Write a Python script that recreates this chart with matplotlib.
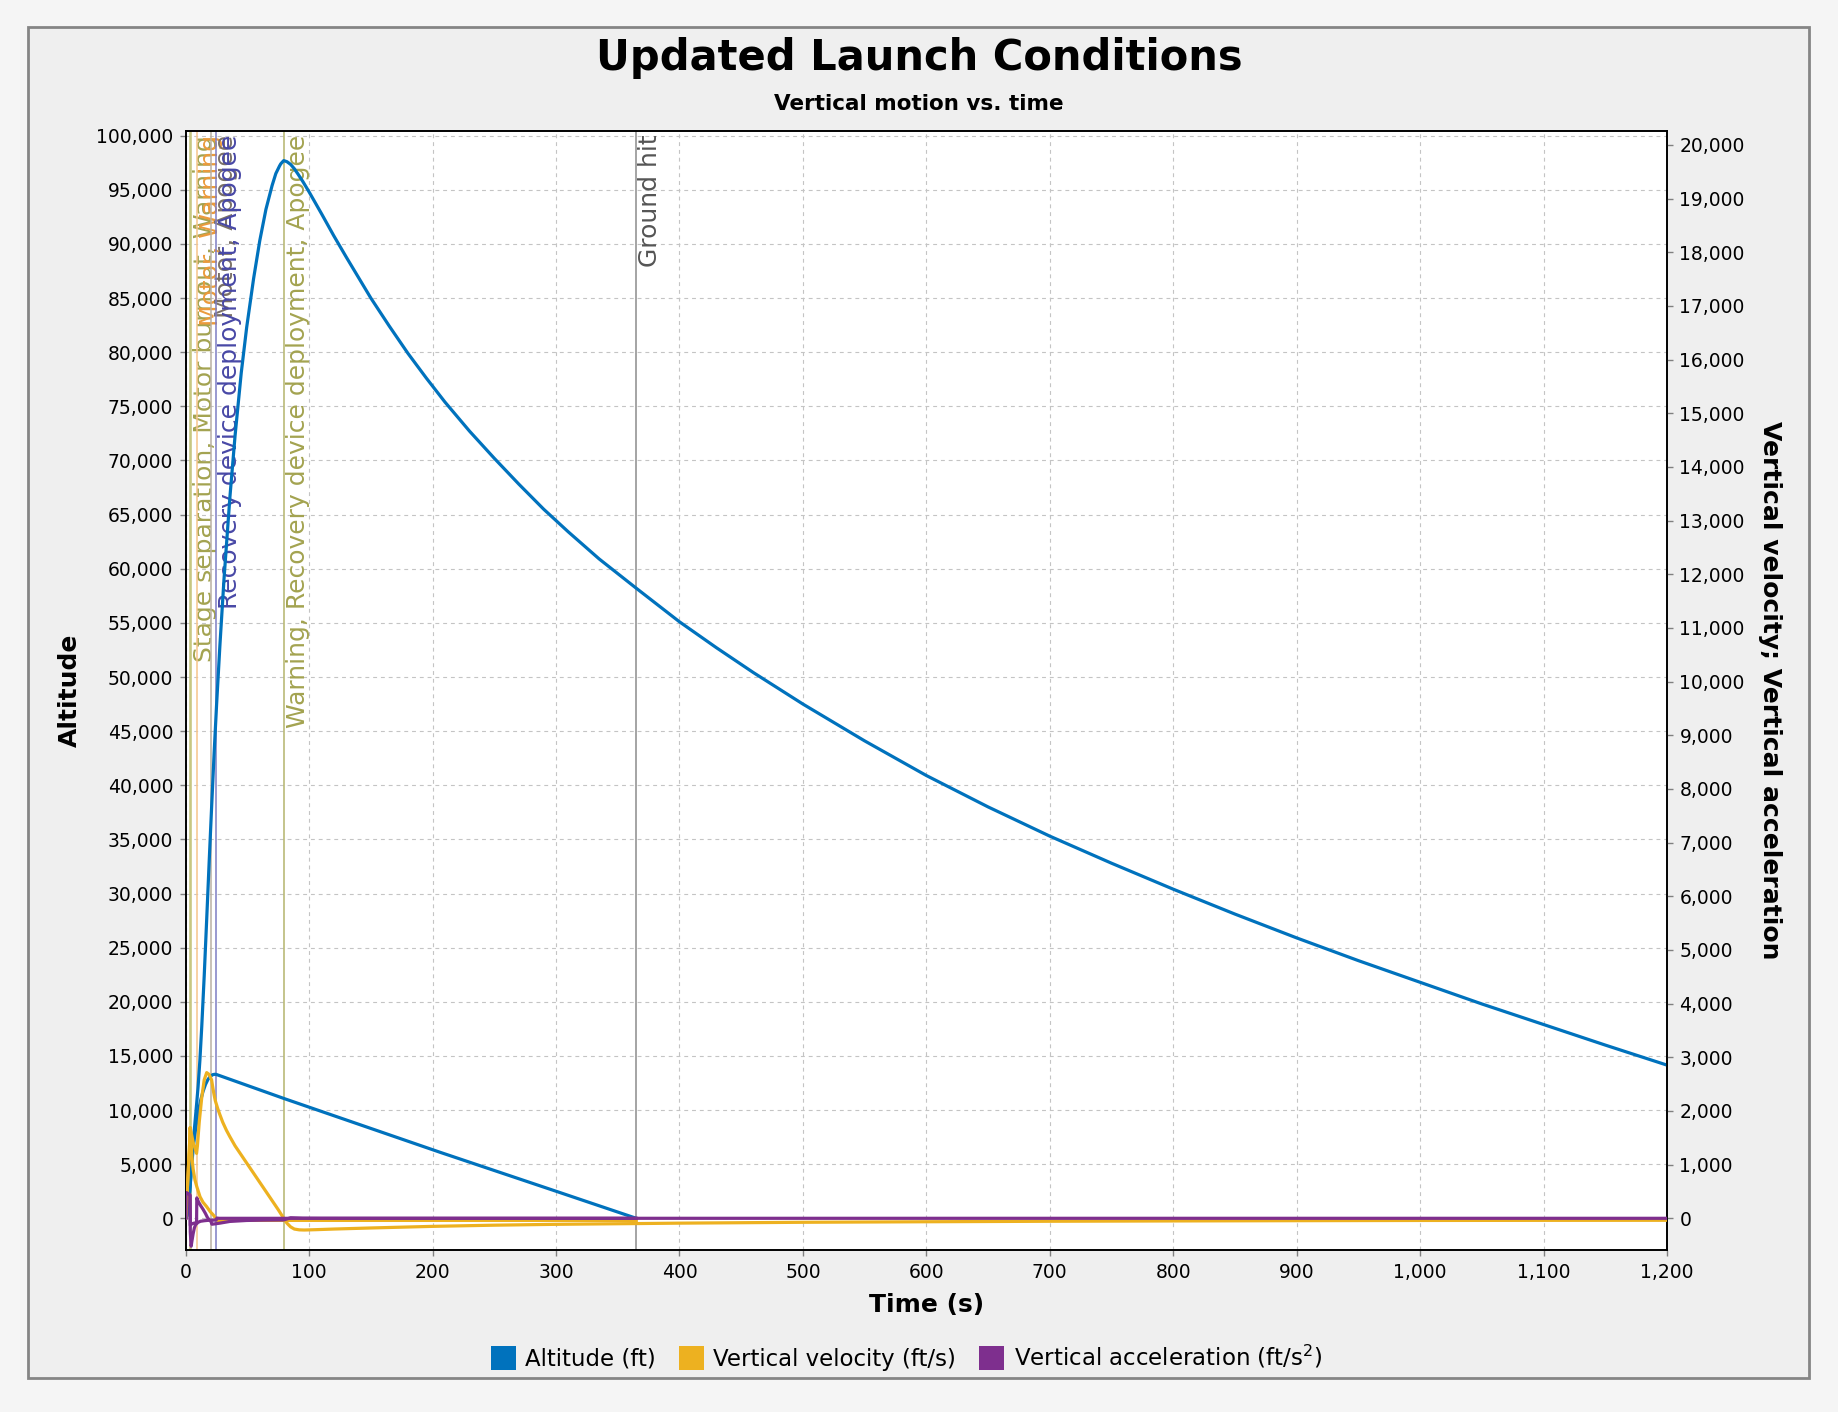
import numpy as np
import matplotlib.pyplot as plt
import matplotlib.patches as mpatches
from matplotlib.ticker import FuncFormatter, MultipleLocator

# ---- data ----
# upper stage (sustainer)
t_sus = [0, 0.5, 1, 1.5, 2, 2.5, 3, 3.6, 4.4, 5.5, 7, 8.8, 10, 11.5, 13, 15, 17, 19, 21,
         23, 25, 27.7, 31, 35.8, 40, 45, 49.4, 55, 60, 65, 70, 73, 76, 77, 79.4,
         82, 85, 88, 91, 95, 100, 110, 120, 130, 140, 150, 165, 180, 195, 210, 230, 250,
         270, 290, 310, 335, 365, 400, 430, 460, 500, 550, 600, 650, 700, 750, 800, 850,
         900, 950, 1000, 1050, 1100, 1150, 1200]
alt_sus = [0, 60, 235, 530, 940, 1470, 2110, 3000, 4300, 6050, 8200, 10500, 12100, 14600,
           17700, 22400, 27600, 32900, 38000, 42900, 47400, 52900, 59000, 66600, 72300,
           78100, 82300, 86800, 90300, 93200, 95400, 96500, 97200, 97400, 97700,
           97600, 97350, 96950, 96450, 95750, 94800, 92800, 90750, 88800, 86900, 85000,
           82400, 79900, 77600, 75400, 72700, 70200, 67800, 65500, 63400, 60900, 58200,
           55100, 52700, 50400, 47500, 44100, 40900, 38000, 35300, 32800, 30400, 28100,
           25900, 23800, 21800, 19800, 17900, 16000, 14150]

t_vel_sus = [0, 0.5, 1, 2, 3, 3.6, 4.4, 6, 8.8, 9.5, 11, 13, 15, 17, 19, 21, 22, 23, 24, 26,
             27.7, 30, 33, 35.8, 40, 45, 49.4, 55, 60, 65, 70, 75, 79.4, 82, 85, 88, 92,
             96, 105, 120, 150, 200, 250, 300, 365, 400, 500, 600, 700, 800, 900, 1000,
             1100, 1200]
vel_sus = [0, 150, 400, 850, 1300, 1690, 1600, 1420, 1210, 1350, 1800, 2250, 2580, 2715,
           2680, 2577, 2430, 2300, 2190, 2040, 1930, 1790, 1640, 1520, 1350, 1180, 1030,
           840, 670, 500, 330, 160, 0, -90, -160, -200, -215, -218, -212, -200, -180,
           -150, -128, -112, -98, -90, -74, -64, -55, -49, -44, -40, -38, -37]

t_acc_sus = [0, 0.1, 1, 2, 3, 3.5, 3.7, 4.4, 6, 8.8, 9.0, 9.5, 10.5, 12, 14, 16, 17.5, 19,
             20.5, 21.2, 23, 27.7, 35.8, 49.4, 62.9, 79.4, 85, 95, 110, 150, 1200]
acc_sus = [0, 480, 470, 460, 445, 430, -130, -110, -95, -80, 380, 350, 300, 240, 170, 90,
           20, -30, -60, -110, -105, -90, -58, -40, -34, -30, 10, 2, 0.5, 0.3, 0]

# booster
t_boo = [0, 0.5, 1, 1.5, 2, 2.5, 3, 3.6, 4.4, 5, 6, 7, 8, 10, 12, 14, 16, 18, 20, 22, 23.5,
         24.7, 26, 80, 206, 300, 365]
alt_boo = [0, 60, 235, 530, 940, 1470, 2110, 3000, 4300, 5150, 6350, 7380, 8250, 9700,
           10850, 11700, 12350, 12820, 13120, 13270, 13300, 13290, 13240, 11050, 6100,
           2500, 0]

t_vel_boo = [0, 0.5, 1, 2, 3, 3.6, 4.0, 4.4, 5, 6, 7.5, 9, 11.6, 14, 17, 20, 22.4, 24, 24.7,
             26, 30, 365]
vel_boo = [0, 150, 400, 850, 1300, 1690, 1600, 1420, 1150, 920, 714, 590, 402, 300, 216,
           120, 61, 10, -20, -40, -39, -39]

t_acc_boo = [0, 0.1, 1, 2, 3, 3.5, 3.7, 4.4, 5, 6, 7, 8, 10, 12, 15, 18, 21, 24, 24.7, 25.2,
             27, 365]
acc_boo = [0, 480, 470, 460, 445, 430, -250, -520, -430, -290, -180, -120, -75, -55, -45,
           -38, -35, -33, -33, 5, 0, 0]

# flight events
event_t = [3.1, 4.4, 8.8, 20.9, 24.7, 79.8, 365]
event_text = ['', 'Stage separation, Motor burnout, Warning', 'Motor, Warning',
              'Motor, Apogee', 'Recovery device deployment, Apogee',
              'Warning, Recovery device deployment, Apogee', 'Ground hit']
event_line_col = ['#c4c47a', '#c4c47a', '#f7c58c', '#b9b0a3', '#7d7dc4', '#b4b46c', '#8c8c8c']
event_text_col = ['#a3a350', '#a3a350', '#eb9a3c', '#7a7066', '#4848a6', '#a3a350', '#555555']

C_ALT = '#0072BD'
C_VEL = '#EDB120'
C_ACC = '#7E2F8E'

W, H = 1838, 1412
fig = plt.figure(figsize=(W / 100, H / 100), dpi=100)
fig.patch.set_facecolor('#f5f5f5')
frame = mpatches.Rectangle((28 / W, 1 - 1378 / H), (1809 - 28) / W, (1378 - 27) / H,
                           transform=fig.transFigure, facecolor='#efefef',
                           edgecolor='#858585', linewidth=2, zorder=-10)
fig.add_artist(frame)

x0, x1, ytop, ybot = 185.7, 1667, 130.7, 1250.3
ax = fig.add_axes([x0 / W, 1 - ybot / H, (x1 - x0) / W, (ybot - ytop) / H])
ax.set_facecolor('white')
ax2 = ax.twinx()

comma = FuncFormatter(lambda v, p: f'{v:,.0f}')

# event markers
for t, txt, lc, tc in zip(event_t, event_text, event_line_col, event_text_col):
    ax.axvline(t, color=lc, lw=1.1, zorder=1)
    if txt:
        ax.annotate(txt, xy=(t, 1), xycoords=('data', 'axes fraction'),
                    xytext=(1.5, -3), textcoords='offset points', rotation=90,
                    ha='left', va='top', fontsize=18, color=tc, zorder=1)

ax.plot(t_sus, alt_sus, color=C_ALT, lw=2.3, zorder=3)
ax.plot(t_boo, alt_boo, color=C_ALT, lw=2.3, zorder=3)
ax2.plot(t_vel_sus, vel_sus, color=C_VEL, lw=2.3, zorder=3)
ax2.plot(t_vel_boo, vel_boo, color=C_VEL, lw=2.3, zorder=3)
ax2.plot(t_acc_sus, acc_sus, color=C_ACC, lw=2.3, zorder=4)
ax2.plot(t_acc_boo, acc_boo, color=C_ACC, lw=2.3, zorder=4)

ax.set_xlim(0, 1200)
ax.set_ylim(-2956, 100462)
ax2.set_ylim(-596, 20265)
ax.xaxis.set_major_locator(MultipleLocator(100))
ax.yaxis.set_major_locator(MultipleLocator(5000))
ax2.yaxis.set_major_locator(MultipleLocator(1000))
ax.xaxis.set_major_formatter(comma)
ax.yaxis.set_major_formatter(comma)
ax2.yaxis.set_major_formatter(comma)

ax.grid(True, color='#c4c4c4', lw=0.8, linestyle=(0, (3.5, 3.5)), zorder=0)
ax.set_axisbelow(True)

for a in (ax, ax2):
    a.tick_params(axis='both', direction='out', length=4, width=1, color='#808080',
                  labelsize=13.5, pad=5)
    for s in a.spines.values():
        s.set_color('black')
        s.set_linewidth(1.2)

ax.set_xlabel('Time (s)', fontsize=18, fontweight='bold', va='center')
ax.xaxis.set_label_coords(0.5, -0.049)
ax.set_ylabel('Altitude', fontsize=18, fontweight='bold', va='center')
ax.yaxis.set_label_coords(-0.078, 0.5)
ax2.set_ylabel('Vertical velocity; Vertical acceleration', fontsize=18,
               fontweight='bold', rotation=-90, va='center')
ax2.yaxis.set_label_coords(1.0695, 0.5)

fig.text(0.5, 1 - 58 / H, 'Updated Launch Conditions', ha='center', va='center',
         fontsize=30, fontweight='bold')
fig.text(0.5, 1 - 104 / H, 'Vertical motion vs. time', ha='center', va='center',
         fontsize=15.5, fontweight='bold')

handles = [mpatches.Patch(facecolor=C_ALT, edgecolor='none', label='Altitude (ft)'),
           mpatches.Patch(facecolor=C_VEL, edgecolor='none', label='Vertical velocity (ft/s)'),
           mpatches.Patch(facecolor=C_ACC, edgecolor='none',
                          label='Vertical acceleration (ft/s$^2$)')]
fig.legend(handles=handles, loc='center', bbox_to_anchor=(906.5 / W, 1 - 1357 / H),
           ncol=3, frameon=False, fontsize=16.5, handlelength=1.1, handleheight=1.2,
           handletextpad=0.4, columnspacing=1.0)

fig.savefig('out.png', dpi=100, facecolor=fig.get_facecolor())
